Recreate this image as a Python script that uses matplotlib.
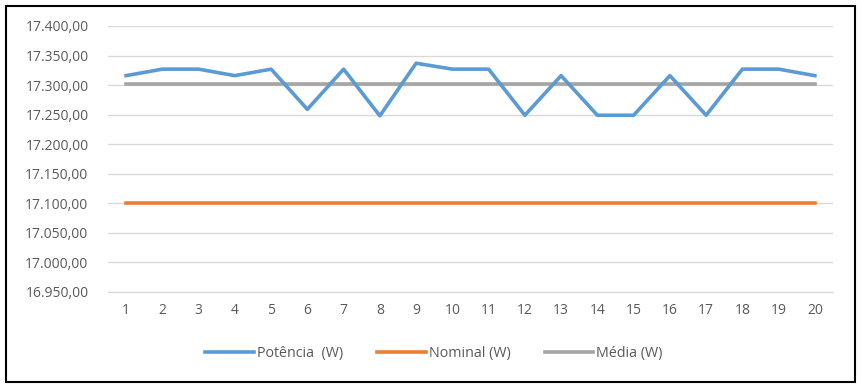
import matplotlib.pyplot as plt
from matplotlib.patches import Rectangle
from matplotlib.ticker import FuncFormatter

categories = list(range(1, 21))
potencia = [17316, 17327, 17327, 17316, 17327, 17259, 17327, 17248, 17337, 17327,
            17327, 17249, 17316, 17249, 17249, 17316, 17249, 17327, 17327, 17316]
nominal = [17100] * 20
media = [17302] * 20
y_ticks = [16950, 17000, 17050, 17100, 17150, 17200, 17250, 17300, 17350, 17400]


def br_fmt(v, pos):
    s = f"{v:,.2f}"
    return s.replace(",", "X").replace(".", ",").replace("X", ".")


plt.rcParams["font.family"] = ["Open Sans", "DejaVu Sans"]

fig = plt.figure(figsize=(8.61, 3.89), dpi=100)
ax = fig.add_axes([0.1254, 0.2494, 0.8421, 0.6838])

ax.plot(categories, potencia, color="#5B9BD5", lw=2.6, label="Potência  (W)", zorder=4)
ax.plot(categories, nominal, color="#ED7D31", lw=2.6, label="Nominal (W)", zorder=3)
ax.plot(categories, media, color="#A5A5A5", lw=2.6, label="Média (W)", zorder=3)

ax.set_xlim(0.5, 20.5)
ax.set_ylim(16950, 17400)
ax.set_yticks(y_ticks)
ax.yaxis.set_major_formatter(FuncFormatter(br_fmt))
ax.set_xticks(categories)
ax.grid(axis="y", color="#D9D9D9", lw=1)
ax.set_axisbelow(True)
for side in ["top", "right", "left"]:
    ax.spines[side].set_visible(False)
ax.spines["bottom"].set_color("#D9D9D9")
ax.tick_params(length=0, labelsize=10, colors="#595959", pad=8)
ax.tick_params(axis="y", pad=14)

fig.legend(loc="center", bbox_to_anchor=(0.504, 1 - 354 / 389), ncol=3, frameon=False,
           fontsize=10.3, labelcolor="#595959", handlelength=3.4, handletextpad=0.2,
           columnspacing=2.4)

fig.patches.append(Rectangle((0.007, 0.018), 0.986, 0.967, transform=fig.transFigure,
                             fill=False, edgecolor="black", lw=1.5))

fig.savefig("out.png", dpi=100)
